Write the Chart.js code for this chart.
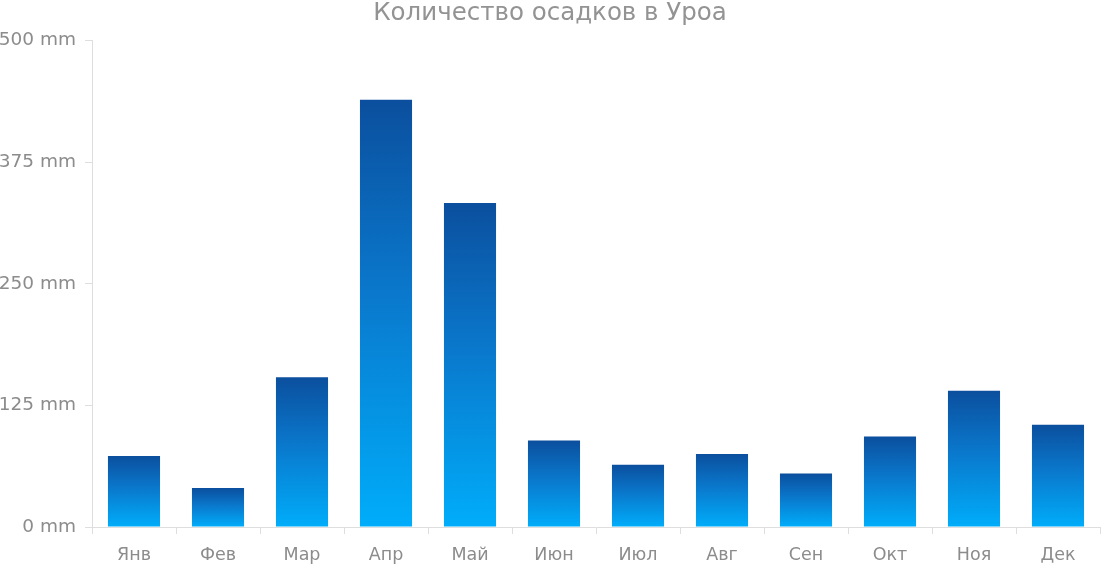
<!DOCTYPE html>
<html>
<head>
<meta charset="utf-8">
<script src="https://cdn.jsdelivr.net/npm/chart.js@4/dist/chart.umd.min.js"></script>
<style>
  html, body { margin: 0; padding: 0; background: #fff; overflow: hidden; }
  #wrap { width: 1105px; height: 577px; position: relative; }
</style>
</head>
<body>
<div id="wrap"><canvas id="rain-chart"></canvas></div>
<script>
// --- Data ---
const months = ['Янв', 'Фев', 'Мар', 'Апр', 'Май', 'Июн', 'Июл', 'Авг', 'Сен', 'Окт', 'Ноя', 'Дек'];
const rainfall = [73, 40, 154, 439, 333, 89, 64, 75, 55, 93, 140, 105];
const yTicks = [0, 125, 250, 375, 500];

const textGray = '#8c8c8c';
const lineGray = '#dedede';
const fontFamily = '"DejaVu Sans", Verdana, sans-serif';

// each bar gets its own gradient: dark blue top, light cyan at the base
function barGradient(context) {
  const chart = context.chart;
  const { ctx, chartArea, scales } = chart;
  if (!chartArea || !scales.y) return '#0a7fd0';
  const top = scales.y.getPixelForValue(context.raw);
  const base = scales.y.getPixelForValue(0);
  const g = ctx.createLinearGradient(0, top, 0, base);
  g.addColorStop(0, '#0b4f9e');
  g.addColorStop(0.45, '#0a78cc');
  g.addColorStop(1, '#00adfa');
  return g;
}

new Chart(document.getElementById('rain-chart'), {
  type: 'bar',
  data: {
    labels: months,
    datasets: [{
      label: 'Осадки',
      data: rainfall,
      backgroundColor: barGradient,
      borderWidth: 0,
      categoryPercentage: 1,
      barPercentage: 0.62,
    }],
  },
  options: {
    responsive: true,
    maintainAspectRatio: false,
    animation: false,
    layout: { padding: { top: 0, right: 5, bottom: 0, left: 0 } },
    plugins: {
      legend: { display: false },
      tooltip: { enabled: false },
      title: {
        display: true,
        text: 'Количество осадков в Уроа',
        color: '#939393',
        font: { family: fontFamily, size: 24.5, weight: 'normal' },
        padding: { top: -1, bottom: 12 },
      },
    },
    scales: {
      x: {
        grid: { display: true, drawOnChartArea: false, drawTicks: true, tickLength: 7, color: lineGray, offset: true },
        border: { display: true, color: lineGray },
        ticks: { color: textGray, padding: 11, font: { family: fontFamily, size: 17.5 } },
      },
      y: {
        min: 0,
        max: 500,
        afterBuildTicks: axis => { axis.ticks = yTicks.map(v => ({ value: v })); },
        afterFit: axis => { axis.width = 92; },
        grid: { display: true, drawOnChartArea: false, drawTicks: true, tickLength: 7, color: lineGray },
        border: { display: true, color: lineGray },
        ticks: {
          color: textGray,
          padding: 9,
          font: { family: fontFamily, size: 18.5 },
          callback: v => v + ' mm',
        },
      },
    },
  },
});
</script>
</body>
</html>
